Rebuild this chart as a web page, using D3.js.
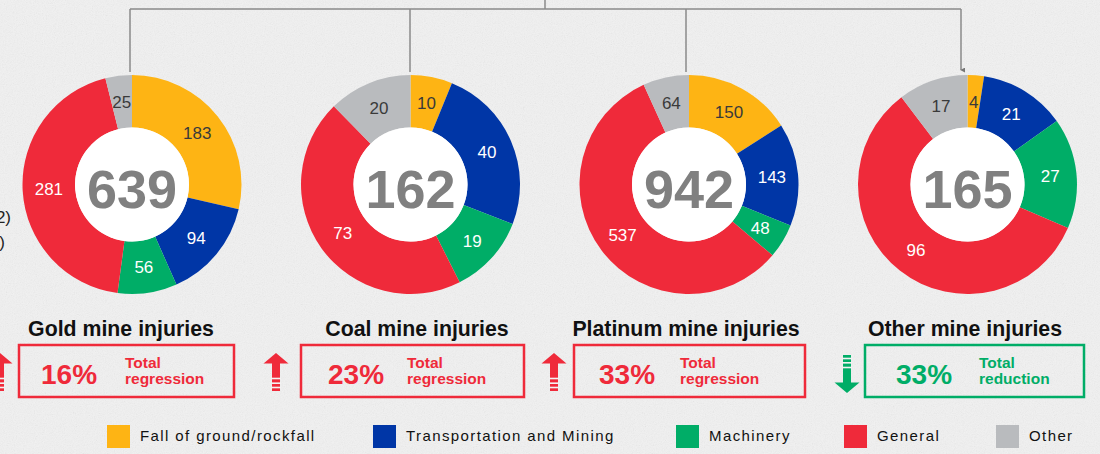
<!DOCTYPE html>
<html lang="en">
<head>
<meta charset="UTF-8">
<title>Mine injuries by cause</title>
<script src="https://d3js.org/d3.v7.min.js"></script>
<style>
    html, body { margin: 0; padding: 0; background: #eeeeee; }
    svg { display: block; font-family: Arial, "Liberation Sans", sans-serif; }
</style>
</head>
<body>
<svg id="chart" width="1100" height="454"></svg>
<script>
// data
const mines = ["Gold", "Coal", "Platinum", "Other"];
const causes = ["Fall of ground/rockfall", "Transportation and Mining", "Machinery", "General", "Other"];
const gold = [183, 94, 56, 281, 25];
const coal = [10, 40, 19, 73, 20];
const platinum = [150, 143, 48, 537, 64];
const other = [4, 21, 27, 96, 17];
const changePct = [16, 23, 33, 33];
const changeDir = ["up", "up", "up", "down"];
const changeText = [["Total", "regression"], ["Total", "regression"], ["Total", "regression"], ["Total", "reduction"]];

const series = [gold, coal, platinum, other];

// colours
const colors = ["#feb414", "#0036a6", "#00ad67", "#ef2a3a", "#b9bbbe"];
const labelColors = ["#3a3a3a", "#ffffff", "#ffffff", "#ffffff", "#3a3a3a"];
const RED = "#ef2a3a", GREEN = "#00ad67";

// layout bits
const boxX = [19, 301, 574, 865];
const boxW = [215, 223, 231, 219];
const pctX = [41, 328, 599, 896];
const txtX = [125, 407, 680, 979];
const titleX = [121, 417, 686, 965];
const arrowX = [0, 276, 554, 847];
const connX = [130, 410, 686, 961];
const legendX = [107, 373, 676, 844, 996];

const svg = d3.select("#chart");
const W = 1100, H = 454;

// paper-ish background
const defs = svg.append("defs");
const f = defs.append("filter").attr("id", "paper").attr("x", 0).attr("y", 0).attr("width", 1).attr("height", 1);
f.append("feTurbulence").attr("type", "fractalNoise").attr("baseFrequency", 0.9).attr("numOctaves", 3).attr("seed", 7);
f.append("feColorMatrix").attr("type", "saturate").attr("values", 0);
svg.append("rect").attr("width", W).attr("height", H).attr("fill", "#f1f1f1");
svg.append("rect").attr("width", W).attr("height", H).attr("filter", "url(#paper)").attr("opacity", 0.14);

defs.append("marker").attr("id", "tip").attr("viewBox", "0 0 6 6")
    .attr("refX", 3).attr("refY", 5).attr("markerWidth", 5).attr("markerHeight", 5)
    .attr("orient", "auto-start-reverse").attr("markerUnits", "userSpaceOnUse")
    .append("path").attr("d", "M0,0 L6,0 L3,6 Z").attr("fill", "#777");

const x = d3.scalePoint().domain(mines).range([132, 967.5]);
const cy = 184.5;
const rOuter = 109.5, rInner = 57;

// connector lines at the top
const conn = svg.append("g").attr("stroke", "#8a8a8a").attr("stroke-width", 1.5).attr("fill", "none");
conn.append("line").attr("x1", connX[0]).attr("x2", connX[3]).attr("y1", 9).attr("y2", 9);
conn.append("line").attr("x1", 545).attr("x2", 545).attr("y1", 0).attr("y2", 9);
connX.forEach((cxv, i) => {
    const l = conn.append("line").attr("x1", cxv).attr("x2", cxv).attr("y1", 9).attr("y2", i === 3 ? 70 : 72);
    if (i === 3) l.attr("marker-end", "url(#tip)");
});

// cut-off text at the left edge (it runs off the picture in the source too)
svg.append("text").attr("x", 11).attr("y", 223).attr("text-anchor", "end")
    .attr("font-size", 17).attr("fill", "#222").text("(2022)");
svg.append("text").attr("x", 5).attr("y", 248).attr("text-anchor", "end")
    .attr("font-size", 17).attr("fill", "#222").text("(2021)");

const pie = d3.pie().sort(null).value(d => d);
const arc = d3.arc().innerRadius(rInner).outerRadius(rOuter);

mines.forEach((m, i) => {
    const vals = series[i];
    const g = svg.append("g").attr("transform", `translate(${x(m)},${cy})`);
    const arcs = pie(vals);

    g.selectAll("path.slice").data(arcs).join("path")
        .attr("class", "slice")
        .attr("d", arc)
        .attr("fill", (d, j) => colors[j]);

    g.append("circle").attr("r", rInner).attr("fill", "#ffffff");

    g.selectAll("text.val").data(arcs).join("text")
        .attr("class", "val")
        .attr("transform", d => `translate(${arc.centroid(d)})`)
        .attr("dy", "0.36em")
        .attr("text-anchor", "middle")
        .attr("font-size", 17)
        .attr("fill", (d, j) => labelColors[j])
        .text(d => d.data);

    g.append("text")
        .attr("y", 23)
        .attr("text-anchor", "middle")
        .attr("font-size", 54)
        .attr("font-weight", "bold")
        .attr("fill", "#808080")
        .text(d3.sum(vals));

    // title
    svg.append("text")
        .attr("x", titleX[i]).attr("y", 336)
        .attr("text-anchor", "middle")
        .attr("font-size", 21.3)
        .attr("font-weight", "bold")
        .attr("fill", "#111")
        .text(m + " mine injuries");

    const c = changeDir[i] === "up" ? RED : GREEN;

    svg.append("rect")
        .attr("x", boxX[i]).attr("y", 345)
        .attr("width", boxW[i]).attr("height", 52)
        .attr("fill", "none")
        .attr("stroke", c).attr("stroke-width", 2.5);

    svg.append("text")
        .attr("x", pctX[i]).attr("y", 384)
        .attr("font-size", 28).attr("font-weight", "bold")
        .attr("fill", c)
        .text(changePct[i] + "%");

    const t = svg.append("text").attr("font-size", 15.5).attr("font-weight", "bold").attr("fill", c);
    t.append("tspan").attr("x", txtX[i]).attr("y", 368).text(changeText[i][0]);
    t.append("tspan").attr("x", txtX[i]).attr("y", 384).text(changeText[i][1]);

    drawArrow(arrowX[i], changeDir[i], c);
});

function drawArrow(ax, dir, col) {
    // drawn as an up arrow then mirrored for down
    const a = svg.append("g");
    if (dir === "down") a.attr("transform", "translate(0,746) scale(1,-1)");
    a.append("path")
        .attr("d", `M${ax},353 L${ax + 12.5},363.5 L${ax - 12.5},363.5 Z`)
        .attr("fill", col);
    a.append("rect").attr("x", ax - 4).attr("y", 363).attr("width", 8).attr("height", 28).attr("fill", col);
    [378.5, 383.2, 387.5].forEach(y => {
        a.append("rect").attr("x", ax - 5).attr("y", y - 0.8).attr("width", 10).attr("height", 1.6).attr("fill", "#f3f3f3");
    });
}

// legend
const lg = svg.append("g");
causes.forEach((cName, j) => {
    lg.append("rect").attr("x", legendX[j]).attr("y", 425).attr("width", 23).attr("height", 23).attr("fill", colors[j]);
    lg.append("text").attr("x", legendX[j] + 33).attr("y", 441)
        .attr("font-size", 15).attr("letter-spacing", 1.4).attr("fill", "#111")
        .text(cName);
});
</script>
</body>
</html>
